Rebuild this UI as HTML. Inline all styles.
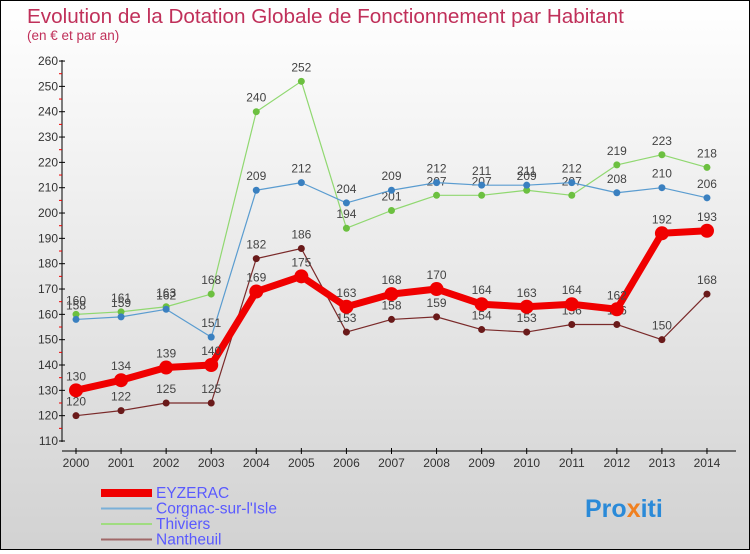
<!DOCTYPE html>
<html><head><meta charset="utf-8"><style>
body{margin:0}
#c{width:748px;height:548px;border:1px solid #000;background:linear-gradient(#fff,#d2d2d2);position:relative;font-family:"Liberation Sans",sans-serif}
svg text{font-family:"Liberation Sans",sans-serif}
</style></head><body>
<div id="c">
<svg id="s" width="748" height="548">
<text x="26" y="22" font-size="20.7" fill="#c0305a">Evolution de la Dotation Globale de Fonctionnement par Habitant</text>
<text x="26" y="39" font-size="13.5" fill="#c0305a">(en € et par an)</text>
<text x="584" y="516" font-size="25" font-weight="bold" fill="#2a8ad8">Pro<tspan fill="#f08020">x</tspan>iti</text>
</svg></div>
<script>
const years=[2000,2001,2002,2003,2004,2005,2006,2007,2008,2009,2010,2011,2012,2013,2014];
const eyzerac=[130,134,139,140,169,175,163,168,170,164,163,164,162,192,193];
const corgnac=[158,159,162,151,209,212,204,209,212,211,211,212,208,210,206];
const thiviers=[160,161,163,168,240,252,194,201,207,207,209,207,219,223,218];
const nantheuil=[120,122,125,125,182,186,153,158,159,154,153,156,156,150,168];
const yTicks=[110,120,130,140,150,160,170,180,190,200,210,220,230,240,250,260];
const s=document.getElementById('s'),NS='http://www.w3.org/2000/svg';
const X=i=>75+i*45.07, Y=v=>440-(v-110)*2.533;
function mk(t,a,p){const e=document.createElementNS(NS,t);for(const k in a)e.setAttribute(k,a[k]);(p||s).appendChild(e);return e;}
let ax=mk('g',{});


mk('line',{x1:61,y1:59,x2:61,y2:441,stroke:'#000'},ax);
mk('line',{x1:61,y1:450,x2:735,y2:450,stroke:'#000'},ax);
yTicks.forEach(v=>{mk('line',{x1:58,x2:64,y1:Y(v),y2:Y(v),stroke:'#000'},ax);
 if(v<260)mk('line',{x1:58,x2:61,y1:Y(v+5),y2:Y(v+5),stroke:'#e00'},ax);
 const t=mk('text',{x:57,y:Y(v)+4,'text-anchor':'end','font-size':12,fill:'#333'},ax);t.textContent=v;
 
 });
years.forEach((y,i)=>{mk('line',{x1:X(i),x2:X(i),y1:447,y2:453,stroke:'#000'},ax);
 const t=mk('text',{x:X(i),y:466,'text-anchor':'middle','font-size':12,fill:'#333'},ax);t.textContent=y;
 
 });
function series(d,col,w,r,name,dot){const g=mk('g',{});
 
 
 mk('polyline',{points:d.map((v,i)=>X(i)+','+Y(v)).join(' '),fill:'none',stroke:col,'stroke-width':w,'stroke-linejoin':'round'},g);
 d.forEach((v,i)=>{mk('circle',{cx:X(i),cy:Y(v),r:r,fill:dot},g);
  const t=mk('text',{x:X(i),y:Y(v)-10,'text-anchor':'middle','font-size':12,fill:'#444'},g);t.textContent=v;
  
  });}
series(nantheuil,'#7a2a2a',1.2,3.5,'series-nantheuil','#6a1a1a');
series(thiviers,'#90d870',1.2,3.5,'series-thiviers','#6cc040');
series(corgnac,'#5a9cd0',1.2,3.5,'series-corgnac','#3a80c0');
series(eyzerac,'#f00000',7,7,'series-eyzerac','#f00000');
const leg=[['EYZERAC','#f00000',8],['Corgnac-sur-l\'Isle','#7ab0d8',2],['Thiviers','#a0dc80',2],['Nantheuil','#a06868',2]];
leg.forEach((l,i)=>{const g=mk('g',{});
 
 
 const y=492+i*15.5;mk('line',{x1:100,x2:151,y1:y,y2:y,stroke:l[1],'stroke-width':l[2]},g);
 const t=mk('text',{x:155,y:y+5,'font-size':15.5,fill:'#5a5aff'},g);t.textContent=l[0];});
</script></body></html>
